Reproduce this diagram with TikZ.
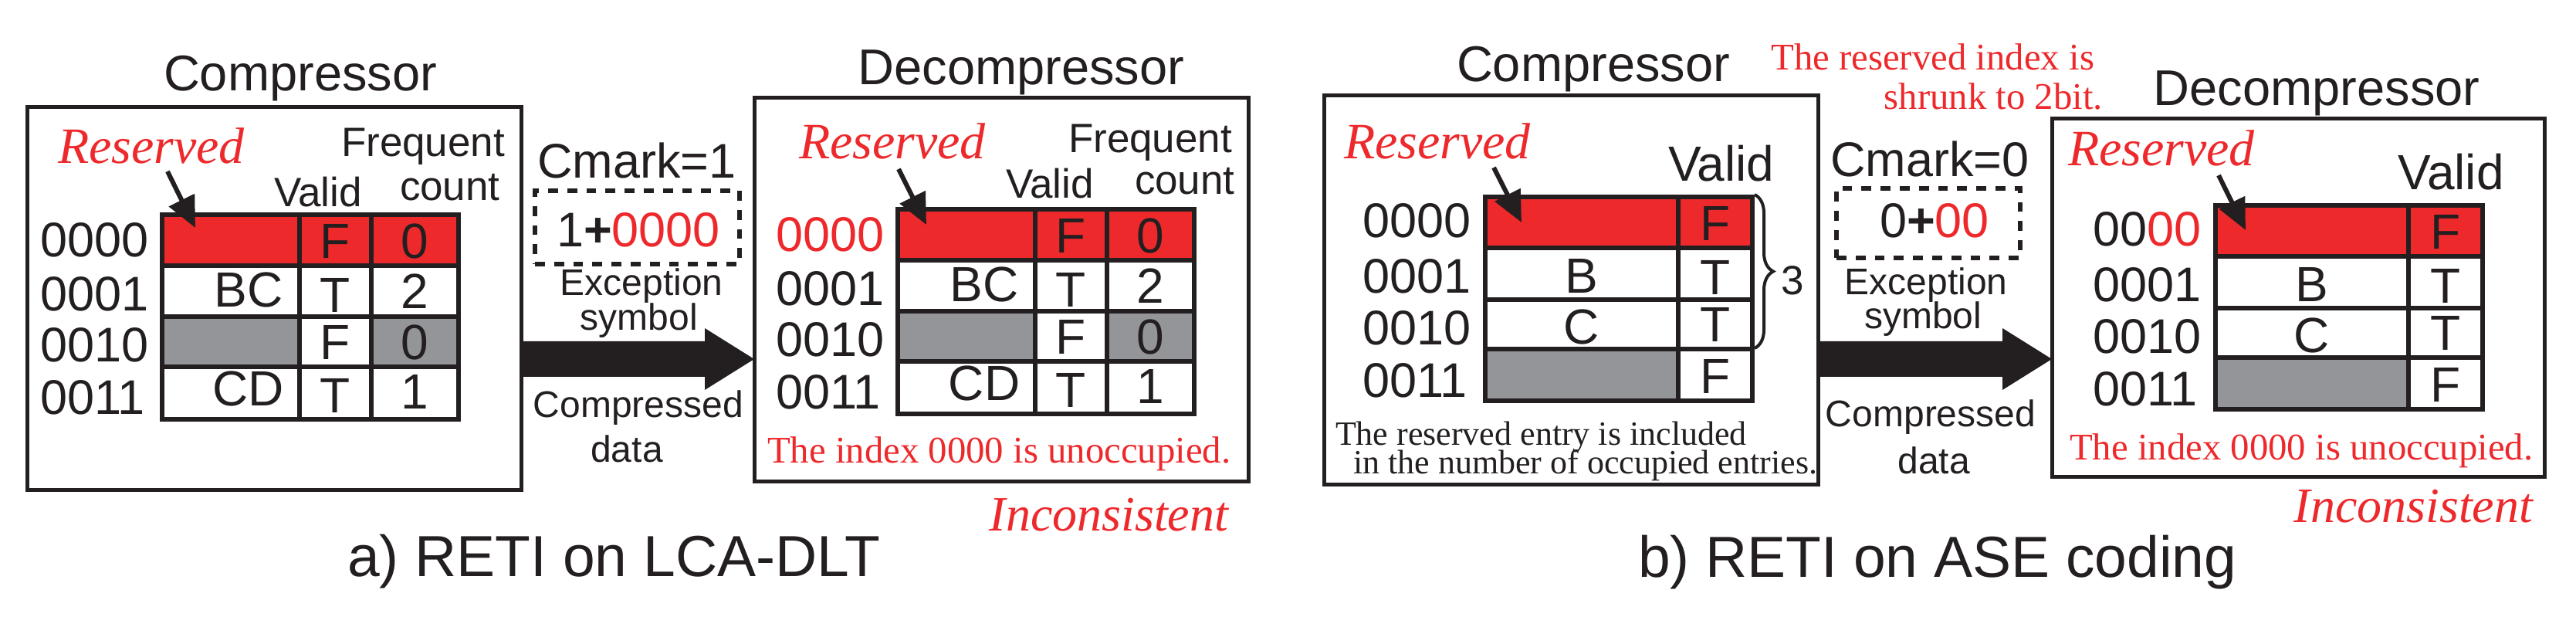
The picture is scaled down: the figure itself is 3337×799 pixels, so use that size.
\documentclass[tikz,border=0pt]{standalone}
\usepackage{fontspec}
\setmainfont{Liberation Serif}
\setsansfont{Liberation Sans}
\usetikzlibrary{arrows.meta,decorations.pathreplacing,calc}
\definecolor{rred}{RGB}{237,41,44}
\definecolor{rgray}{RGB}{147,149,152}
\definecolor{rblack}{RGB}{35,31,32}
\newcommand{\fsz}[1]{\fontsize{#1}{#1}\selectfont}
\newcommand{\tabA}[4]{%
\begin{scope}[shift={(#1,#2)}]
 \fill[rred] (0,0) rectangle (384,66);
 \fill[rgray] (0,132) rectangle (178,197);
 \fill[rgray] (271,132) rectangle (384,197);
 \draw[gridl] (0,0) rectangle (384,265);
 \draw[gridl] (178,0) -- (178,265) (271,0) -- (271,265);
 \draw[gridl] (0,66) -- (384,66) (0,132) -- (384,132) (0,197) -- (384,197);
 \node[idx] (#3i0) at (-158,55) {#4};
 \node[idx] (#3i1) at (-158,125) {0001};
 \node[idx] (#3i2) at (-158,191) {0010};
 \node[idx] (#3i3) at (-158,259) {0011};
 \node[cell] (#3c1) at (112,120) {BC};
 \node[cell] (#3c3) at (112,248) {CD};
 \node[cell] (#3v0) at (224,57) {F};
 \node[cell] (#3v1) at (224,127) {T};
 \node[cell] (#3v2) at (224,188) {F};
 \node[cell] (#3v3) at (224,257) {T};
 \node[cell] (#3f0) at (327,57) {0};
 \node[cell] (#3f1) at (327,122) {2};
 \node[cell] (#3f2) at (327,188) {0};
 \node[cell] (#3f3) at (327,252) {1};
\end{scope}}
\newcommand{\tabB}[4]{%
\begin{scope}[shift={(#1,#2)}]
 \fill[rred] (0,0) rectangle (346,66);
 \fill[rgray] (0,197) rectangle (250,264);
 \draw[gridl] (0,0) rectangle (346,264);
 \draw[gridl] (250,0) -- (250,264);
 \draw[gridl] (0,66) -- (346,66) (0,133) -- (346,133) (0,197) -- (346,197);
 \node[idx] (#3i0) at (-159,53) {#4};
 \node[idx] (#3i1) at (-159,125) {0001};
 \node[idx] (#3i2) at (-159,192) {0010};
 \node[idx] (#3i3) at (-159,260) {0011};
 \node[cell] (#3c1) at (125,125) {B};
 \node[cell] (#3c2) at (125,191) {C};
 \node[cell] (#3v0) at (298,57) {F};
 \node[cell] (#3v1) at (298,127) {T};
 \node[cell] (#3v2) at (298,188) {T};
 \node[cell] (#3v3) at (298,255) {F};
\end{scope}}
\begin{document}
\begin{tikzpicture}[x=0.25pt,y=-0.25pt,
 txt/.style={inner sep=0pt,outer sep=0pt,text=rblack},
 ttl/.style={txt,font=\sffamily\fsz{16.25pt},anchor=base},
 resv/.style={txt,font=\rmfamily\itshape\fsz{16.5pt},text=rred,anchor=base west},
 hdr/.style={txt,font=\sffamily\fsz{13.25pt},anchor=base west},
 idx/.style={txt,font=\sffamily\fsz{15.75pt},anchor=base west},
 cell/.style={txt,font=\sffamily\fsz{16pt},anchor=base},
 mid/.style={txt,font=\sffamily\fsz{12pt},anchor=base},
 cmk/.style={txt,font=\sffamily\fsz{15.75pt},anchor=base},
 note/.style={txt,font=\rmfamily\fsz{12.2pt},text=rred,anchor=base west},
 rnote/.style={txt,font=\rmfamily\fsz{12.2pt},text=rred,anchor=base east},
 bnote/.style={txt,font=\rmfamily\fsz{11pt},anchor=base west},
 incons/.style={txt,font=\rmfamily\itshape\fsz{16pt},text=rred,anchor=base east},
 capt/.style={txt,font=\sffamily\fsz{18.75pt},anchor=base west},
 box/.style={draw=rblack,line width=1.25pt,inner sep=0pt,outer sep=0pt,anchor=north west},
 gridl/.style={draw=rblack,line width=1.6pt},
 resarrow/.style={draw=rblack,line width=1.5pt,-{Triangle[length=10pt,width=9pt]}},
 dbox/.style={draw=rblack,line width=1.4pt,dash pattern=on 3.2pt off 3pt},
]
\useasboundingbox (0,0) rectangle (3337,799);
% ---------- (a) ----------
\node[box,minimum width=160pt,minimum height=124pt] (compA) at (35,139) {};
\node[ttl] (compAt) at (389,118) {Compressor};
\node[resv] (compAr) at (75,212) {Reserved};
\node[hdr] (compAh1) at (442,203) {Frequent};
\node[hdr] (compAh2) at (518,260) {count};
\node[hdr] (compAh3) at (355,268) {Valid};
\tabA{210}{278}{ca}{0000}
\coordinate (ra1s) at (217,222);
\coordinate (ra1e) at (253,295);
\draw[resarrow] (ra1s) -- (ra1e);

\node[cmk] (cmA) at (825,231) {Cmark=1};
\node[box,dbox,minimum width=66.25pt,minimum height=23.75pt] (dbA) at (693,247) {};
\node[cmk] (cmAv) at (827,320) {1\textbf{+}\textcolor{rred}{0000}};
\node[mid] (exA1) at (831,383) {Exception};
\node[mid] (exA2) at (828,428) {symbol};
\node[mid] (cdA1) at (827,541) {Compressed};
\node[mid] (cdA2) at (812,599) {data};

\node[box,minimum width=160pt,minimum height=124.25pt] (decA) at (977,127) {};
\node[ttl] (decAt) at (1323,110) {Decompressor};
\node[resv] (decAr) at (1035,206) {Reserved};
\node[hdr] (decAh1) at (1384,198) {Frequent};
\node[hdr] (decAh2) at (1470,252) {count};
\node[hdr] (decAh3) at (1303,257) {Valid};
\tabA{1163}{271}{da}{\textcolor{rred}{0000}}
\coordinate (ra2s) at (1164,219);
\coordinate (ra2e) at (1200,291);
\draw[resarrow] (ra2s) -- (ra2e);
\node[note] (decAn) at (994,600) {The index 0000 is unoccupied.};
\node[incons] (decAi) at (1591,688) {Inconsistent};

\coordinate (ya) at (0,465);
\path (compA.east |- ya) coordinate (A1);
\path (decA.west |- ya) coordinate (A2);
\fill[rblack] ($(A1)+(0,-23)$) -- ($(A2)+(-64,-23)$) -- ($(A2)+(-64,-40)$) -- (A2)
  -- ($(A2)+(-64,40)$) -- ($(A2)+(-64,23)$) -- ($(A1)+(0,23)$) -- cycle;

\node[capt] (capA) at (450,747) {a) RETI on LCA-DLT};

% ---------- (b) ----------
\node[box,minimum width=160pt,minimum height=126pt] (compB) at (1715,124) {};
\node[ttl] (compBt) at (2064,106) {Compressor};
\node[resv] (compBr) at (1741,206) {Reserved};
\node[txt,font=\sffamily\fsz{16pt},anchor=base west] (compBh) at (2161,235) {Valid};
\tabB{1924}{255}{cb}{0000}
\coordinate (rb1s) at (1935,217);
\coordinate (rb1e) at (1971,288);
\draw[resarrow] (rb1s) -- (rb1e);
\coordinate (brT) at (2273,252);
\coordinate (brB) at (2273,451);
\draw[rblack,line width=1pt,decorate,decoration={brace,amplitude=6pt}] (brT) -- (brB);
\node[txt,font=\sffamily\fsz{13.25pt},anchor=base west] (brN) at (2307,382) {3};
\node[bnote] (compBn1) at (1730,577) {The reserved entry is included};
\node[bnote] (compBn2) at (1753,614) {in the number of occupied entries.};

\node[rnote] (shr1) at (2713,91) {The reserved index is};
\node[rnote] (shr2) at (2724,142) {shrunk to 2bit.};
\node[cmk] (cmB) at (2500,229) {Cmark=0};
\node[box,dbox,minimum width=59.5pt,minimum height=22.5pt] (dbB) at (2379,244) {};
\node[cmk] (cmBv) at (2506,308) {0\textbf{+}\textcolor{rred}{00}};
\node[mid] (exB1) at (2495,382) {Exception};
\node[mid] (exB2) at (2491,426) {symbol};
\node[mid] (cdB1) at (2501,553) {Compressed};
\node[mid] (cdB2) at (2505,614) {data};

\node[box,minimum width=159.5pt,minimum height=116pt] (decB) at (2658,154) {};
\node[ttl] (decBt) at (3001,137) {Decompressor};
\node[resv] (decBr) at (2679,215) {Reserved};
\node[txt,font=\sffamily\fsz{16pt},anchor=base west] (decBh) at (3106,246) {Valid};
\tabB{2870}{266}{db}{00\textcolor{rred}{00}}
\coordinate (rb2s) at (2874,227);
\coordinate (rb2e) at (2909,298);
\draw[resarrow] (rb2s) -- (rb2e);
\node[note] (decBn) at (2681,596) {The index 0000 is unoccupied.};
\node[incons] (decBi) at (3281,677) {Inconsistent};

\coordinate (yb) at (0,465);
\path (compB.east |- yb) coordinate (B1);
\path (decB.west |- yb) coordinate (B2);
\fill[rblack] ($(B1)+(0,-23)$) -- ($(B2)+(-64,-23)$) -- ($(B2)+(-64,-40)$) -- (B2)
  -- ($(B2)+(-64,40)$) -- ($(B2)+(-64,23)$) -- ($(B1)+(0,23)$) -- cycle;

\node[capt] (capB) at (2122,748) {b) RETI on ASE coding};
\end{tikzpicture}
\end{document}
